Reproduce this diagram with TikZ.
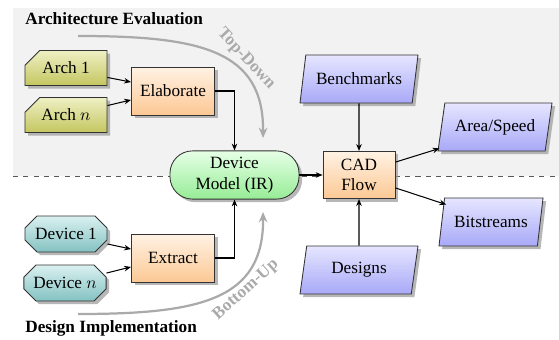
\documentclass[tikz,border=0pt]{standalone}
\usepackage{fontspec}
\setmainfont{Liberation Serif}
\usetikzlibrary{shapes.geometric,shapes.misc,shadows,arrows.meta,calc}
\definecolor{bggray}{RGB}{242,242,242}
\definecolor{archtop}{RGB}{238,240,196}
\definecolor{archbot}{RGB}{196,198,96}
\definecolor{proctop}{RGB}{255,242,228}
\definecolor{procbot}{RGB}{252,200,148}
\definecolor{dmtop}{RGB}{230,255,230}
\definecolor{dmbot}{RGB}{150,236,150}
\definecolor{iotop}{RGB}{230,230,255}
\definecolor{iobot}{RGB}{168,168,248}
\definecolor{devtop}{RGB}{218,240,240}
\definecolor{devbot}{RGB}{132,194,194}
\definecolor{flowgray}{RGB}{170,170,170}
\tikzset{
  shad/.style={drop shadow={shadow xshift=1.8pt,shadow yshift=-1.8pt,fill=black!40,opacity=0.7}},
  base/.style={draw=black!80,line width=0.5pt,shad,inner sep=2pt,align=center},
  archbox/.style={base,chamfered rectangle,chamfered rectangle corners=north west,
     chamfered rectangle xsep=4.5pt,chamfered rectangle ysep=4pt,
     minimum width=47.7pt,minimum height=20.3pt,top color=archtop,bottom color=archbot},
  devbox/.style={base,chamfered rectangle,chamfered rectangle xsep=3.5pt,chamfered rectangle ysep=3.5pt,
     minimum width=47.7pt,minimum height=20.9pt,top color=devtop,bottom color=devbot},
  procbox/.style={base,rectangle,minimum width=48.3pt,minimum height=27.9pt,top color=proctop,bottom color=procbot},
  dmbox/.style={base,rectangle,rounded corners=13pt,minimum width=75pt,minimum height=28pt,top color=dmtop,bottom color=dmbot,inner sep=1pt},
  iobox/.style={base,trapezium,trapezium left angle=73,trapezium right angle=107,trapezium stretches body,
     minimum height=27.9pt,top color=iotop,bottom color=iobot},
  conn/.style={-{Stealth[length=4pt,width=3.2pt]},line width=0.6pt,black},
  flow/.style={-{Stealth[length=6pt,width=5pt]},line width=1.3pt,flowgray},
  flowlabel/.style={text=flowgray,font=\bfseries,inner sep=0pt},
  title/.style={font=\bfseries,anchor=west,inner sep=0pt}
}
\begin{document}
\begin{tikzpicture}[x=0.5814pt,y=-0.5814pt]
\useasboundingbox (0,0) rectangle (559,339);
\fill[bggray] (13,8) rectangle (559,176);
\draw[dashed,black!65,line width=0.5pt] (13,176) -- (559,176);

\node[title] (tarch) at (25,19) {Architecture Evaluation};
\node[title] (tdes) at (25,328) {Design Implementation};

\draw[flow] (78,36) .. controls (200,36) and (264,50) .. (263,138);
\draw[flow] (78,314) .. controls (200,314) and (264,300) .. (263,212);
\node[flowlabel,rotate=-47] (ltd) at (246,59) {Top-Down};
\node[flowlabel,rotate=42] (lbu) at (246,290) {Bottom-Up};

\node[archbox] (a1) at (66,68) {Arch 1};
\node[archbox] (an) at (66,115) {Arch $n$};
\node[procbox] (elab) at (173,91) {Elaborate};
\node[devbox] (d1) at (66,234) {Device 1};
\node[devbox] (dn) at (65,283) {Device $n$};
\node[procbox] (ext) at (173,258) {Extract};
\node[dmbox] (dm) at (234.5,175) {Device\\Model (IR)};
\node[procbox,minimum width=41.9pt,minimum height=27.5pt] (cad) at (359,175) {CAD\\Flow};
\node[iobox,minimum width=68.6pt] (bench) at (359,79) {Benchmarks};
\node[iobox,minimum width=68.6pt] (des) at (359,270) {Designs};
\node[iobox,minimum width=66.3pt] (as) at (495,127) {Area/Speed};
\node[iobox,minimum width=60.5pt] (bits) at (491,222) {Bitstreams};

\draw[conn] ([yshift=-5.5pt]a1.east) -- ([yshift=5.2pt]elab.west);
\draw[conn] ([yshift=5.5pt]an.east) -- ([yshift=-5.2pt]elab.west);
\draw[conn] ([yshift=-5.8pt]d1.east) -- ([yshift=5.2pt]ext.west);
\draw[conn] ([yshift=5.8pt]dn.east) -- ([yshift=-5.2pt]ext.west);
\draw[conn] (elab.east) -| (dm.north);
\draw[conn] (ext.east) -| (dm.south);
\draw[conn] (dm.east) -- (cad.west);
\draw[conn] (bench.south) -- (cad.north);
\draw[conn] (des.north) -- (cad.south);
\draw[conn] ([yshift=7.5pt]cad.east) -- ($(as.bottom left corner)+(2,-3)$);
\draw[conn] ([yshift=-7.5pt]cad.east) -- ($(bits.top left corner)+(2,7)$);
\end{tikzpicture}
\end{document}
